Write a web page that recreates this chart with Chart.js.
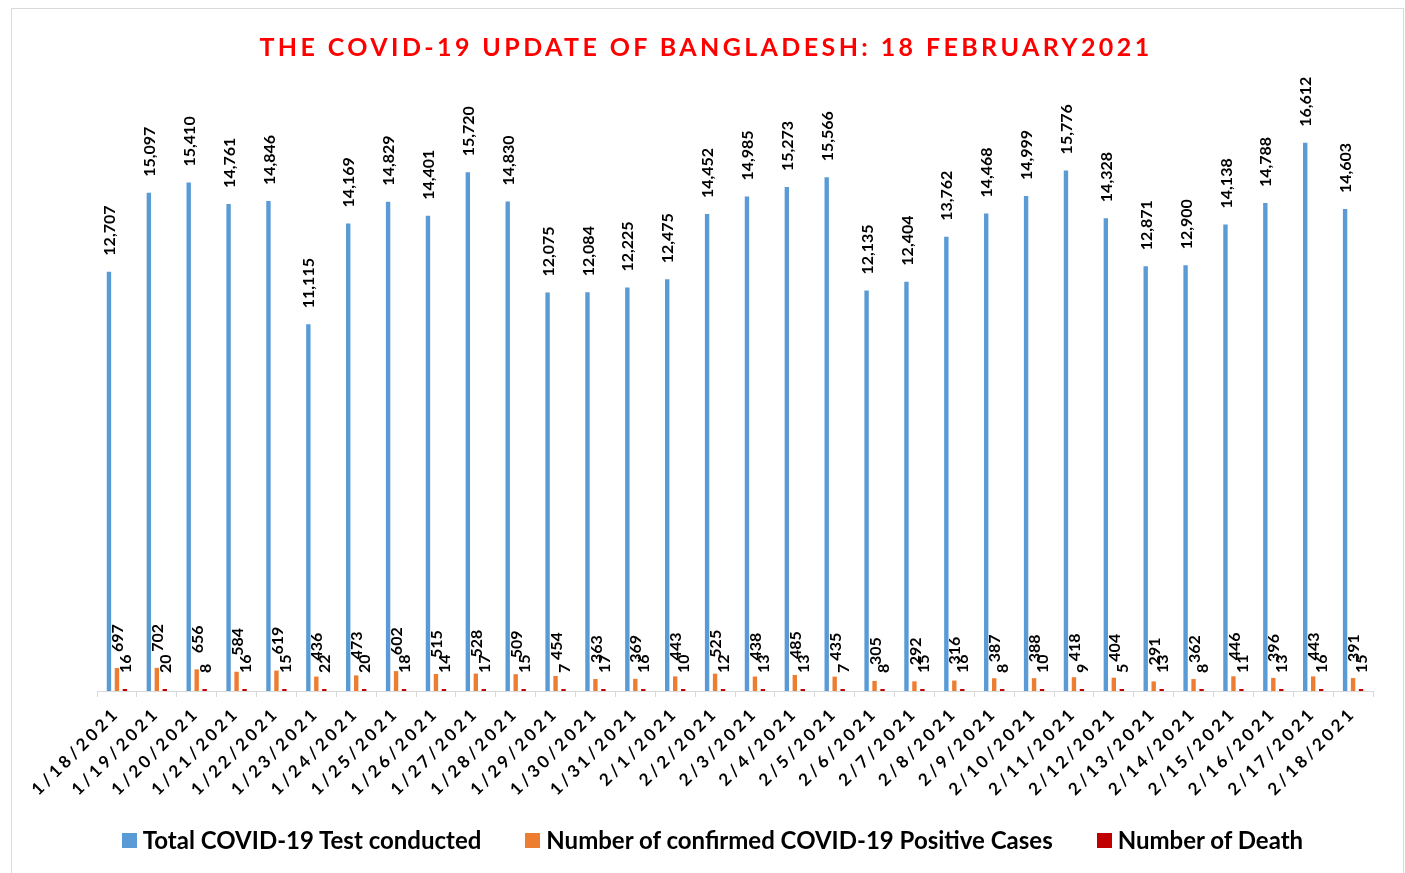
<!DOCTYPE html>
<html>
<head>
<meta charset="utf-8">
<script src="https://cdn.jsdelivr.net/npm/chart.js@4"></script>
<style>
  html, body { margin: 0; padding: 0; background: #fff; }
  body { width: 1405px; height: 873px; position: relative; overflow: hidden; font-family: Lato, "Open Sans", sans-serif; }
  #frame { position: absolute; left: 11px; top: 8px; width: 1391px; height: 900px; border: 1px solid #d9d9d9; }
  #chart { position: absolute; left: 0; top: 0; }
  #title { position: absolute; left: 0; top: 30px; width: 1412px; text-align: center; color: #ff0000;
           font-weight: bold; font-size: 25px; letter-spacing: 3.4px; line-height: 32px; }
  #legend { position: absolute; left: 10px; top: 824px; width: 1405px; display: flex; justify-content: center; gap: 44px;
            font-weight: bold; font-size: 24px; line-height: 32px; color: #000; }
  #legend span.item { display: flex; align-items: center; }
  #legend span.box { display: inline-block; width: 15px; height: 15px; margin-right: 6px; }
</style>
</head>
<body>
<div id="frame"></div>
<canvas id="chart" width="1405" height="873"></canvas>
<div id="title">THE COVID-19 UPDATE OF BANGLADESH: 18 FEBRUARY2021</div>
<div id="legend"></div>
<script>
// values
const dates = ['1/18/2021', '1/19/2021', '1/20/2021', '1/21/2021', '1/22/2021', '1/23/2021', '1/24/2021', '1/25/2021',
    '1/26/2021', '1/27/2021', '1/28/2021', '1/29/2021', '1/30/2021', '1/31/2021', '2/1/2021', '2/2/2021',
    '2/3/2021', '2/4/2021', '2/5/2021', '2/6/2021', '2/7/2021', '2/8/2021', '2/9/2021', '2/10/2021',
    '2/11/2021', '2/12/2021', '2/13/2021', '2/14/2021', '2/15/2021', '2/16/2021', '2/17/2021', '2/18/2021'];
const testsConducted = [12707, 15097, 15410, 14761, 14846, 11115, 14169, 14829, 14401, 15720, 14830, 12075, 12084, 12225, 12475, 14452,
    14985, 15273, 15566, 12135, 12404, 13762, 14468, 14999, 15776, 14328, 12871, 12900, 14138, 14788, 16612, 14603];
const positiveCases = [697, 702, 656, 584, 619, 436, 473, 602, 515, 528, 509, 454, 363, 369, 443, 525,
    438, 485, 435, 305, 292, 316, 387, 388, 418, 404, 291, 362, 446, 396, 443, 391];
const deaths = [16, 20, 8, 16, 15, 22, 20, 18, 14, 17, 15, 7, 17, 16, 10, 12,
    13, 13, 7, 8, 15, 16, 8, 10, 9, 5, 13, 8, 11, 13, 16, 15];

const seriesNames = ['Total COVID-19 Test conducted', 'Number of confirmed COVID-19 Positive Cases', 'Number of Death'];
const seriesColors = ['#5b9bd5', '#ed7d31', '#c00000'];

// tick labels in the reference are widely letter-spaced
const tickSpacing = {
    id: 'tickSpacing',
    beforeDraw(chart) { chart.ctx.letterSpacing = '3.5px'; },
    afterDraw(chart) { chart.ctx.letterSpacing = '0px'; }
};

// vertical value labels above every bar
const barLabels = {
    id: 'barLabels',
    afterDatasetsDraw(chart) {
        const ctx = chart.ctx;
        ctx.save();
        ctx.letterSpacing = '0px';
        ctx.font = 'bold 16px Lato';
        ctx.fillStyle = '#000';
        ctx.textAlign = 'left';
        ctx.textBaseline = 'middle';
        chart.data.datasets.forEach((ds, i) => {
            chart.getDatasetMeta(i).data.forEach((bar, j) => {
                ctx.save();
                ctx.translate(bar.x + 1, bar.y - 16);
                ctx.rotate(-Math.PI / 2);
                ctx.fillText(ds.data[j].toLocaleString('en-US'), 0, 0);
                ctx.restore();
            });
        });
        ctx.restore();
    }
};

const values = [testsConducted, positiveCases, deaths];
const datasets = seriesNames.map((name, i) => ({
    label: name,
    data: values[i],
    backgroundColor: seriesColors[i],
    categoryPercentage: 0.6,
    barPercentage: 0.55,
    minBarLength: i === 2 ? 2 : 0
}));

new Chart(document.getElementById('chart'), {
    type: 'bar',
    data: { labels: dates, datasets: datasets },
    options: {
        responsive: false,
        animation: false,
        layout: { padding: { left: 97, right: 32, top: 97, bottom: 0 } },
        plugins: { legend: { display: false }, title: { display: false }, tooltip: { enabled: false } },
        scales: {
            x: {
                grid: { display: true, drawOnChartArea: false, color: '#d9d9d9', tickLength: 6, offset: true },
                border: { display: true, color: '#d9d9d9' },
                ticks: {
                    color: '#000', font: { family: 'Lato', size: 17, weight: 'bold' },
                    minRotation: 45, maxRotation: 45, autoSkip: false, padding: 6
                },
                afterFit(scale) { scale.height = 182; }
            },
            y: { display: false, min: 0, max: 18000 }
        }
    },
    plugins: [tickSpacing, barLabels]
});

const legend = document.getElementById('legend');
seriesNames.forEach((name, i) => {
    const item = document.createElement('span');
    item.className = 'item';
    item.innerHTML = `<span class="box" style="background:${seriesColors[i]}"></span>${name}`;
    legend.appendChild(item);
});
</script>
</body>
</html>
